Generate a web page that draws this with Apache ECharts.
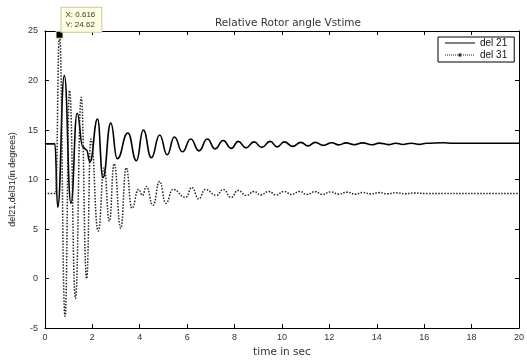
<!DOCTYPE html>
<html>
<head>
<meta charset="utf-8">
<script src="https://cdn.jsdelivr.net/npm/echarts@6/dist/echarts.min.js"></script>
<style>
  html, body { margin: 0; padding: 0; background: #fff; }
  #main { width: 527px; height: 363px; }
</style>
</head>
<body>
<div id="main"></div>
<script>
// del 21 : peaks / troughs  [time, degrees]
var del21 = [
  [0, 13.6], [0.42, 13.6], [0.54, 7.2], [0.82, 20.5], [1.1, 7.6], [1.36, 16.7],
  [1.6, 13.3], [1.75, 13.0], [1.9, 11.8], [2.22, 16.1], [2.45, 10.2], [2.78, 15.7],
  [3.05, 12.1], [3.5, 14.7], [3.86, 11.9], [4.15, 15.0], [4.49, 12.2], [4.84, 14.5],
  [5.16, 12.5], [5.46, 14.3], [5.8, 12.8], [6.15, 14.1], [6.5, 12.9], [6.85, 14.1],
  [7.18, 13.1], [7.52, 13.95], [7.86, 13.15], [8.16, 13.85], [8.48, 13.2], [8.82, 13.8],
  [9.15, 13.25], [9.5, 13.85], [9.8, 13.3], [10.1, 13.8], [10.45, 13.35], [10.8, 13.75],
  [11.1, 13.4], [11.4, 13.75], [11.75, 13.45], [12.1, 13.72], [12.4, 13.5], [12.7, 13.7],
  [13.05, 13.52], [13.4, 13.7], [13.8, 13.52], [14.1, 13.68], [14.5, 13.53], [14.8, 13.67],
  [15.1, 13.54], [15.45, 13.67], [15.8, 13.55], [16.1, 13.67], [16.8, 13.72], [17.2, 13.66],
  [20, 13.66]
];

// del 31
var del31 = [
  [0, 8.6], [0.45, 8.6], [0.616, 24.62], [0.85, -3.8], [1.04, 19.0], [1.29, -2.0],
  [1.53, 18.3], [1.76, 0], [1.94, 14.1], [2.25, 4.8], [2.5, 11.2], [2.72, 5.8],
  [2.92, 11.6], [3.2, 5.1], [3.43, 11.2], [3.67, 7.1], [3.95, 9.0], [4.12, 8.4],
  [4.28, 9.3], [4.56, 7.4], [4.84, 9.8], [5.1, 7.6], [5.4, 9.0], [5.94, 8.2],
  [6.2, 9.2], [6.49, 8.05], [6.76, 9.0], [7.24, 8.4], [7.52, 9.0], [7.86, 8.2],
  [8.14, 8.9], [8.5, 8.4], [8.82, 8.8], [9.1, 8.45], [9.44, 8.8], [9.75, 8.45],
  [10.1, 8.8], [10.4, 8.5], [10.75, 8.8], [11.05, 8.5], [11.4, 8.78], [11.7, 8.5],
  [12.05, 8.75], [12.4, 8.52], [12.75, 8.72], [13.1, 8.52], [13.4, 8.7], [13.75, 8.55],
  [14.1, 8.68], [14.45, 8.56], [14.8, 8.66], [15.2, 8.57], [15.6, 8.64], [16.0, 8.6],
  [20, 8.6]
];

var xTicks = { min: 0, max: 20, interval: 2 };
var yTicks = { min: -5, max: 25, interval: 5 };
var tip = [0.616, 24.62];

var chart = echarts.init(document.getElementById('main'));
var font = 'Liberation Sans, Arial, sans-serif';
var wide = 'DejaVu Sans, sans-serif';

// legend icons (30 x 8 box): plain line, dotted line with a dot in the middle
var solidIcon = 'path://M0,0Z M30,8Z M0,3.5 L30,3.5 L30,4.5 L0,4.5 Z';
var dotIcon = 'path://M0,0Z M30,8Z';
for (var i = 0; i < 30; i += 2) {
  if (i > 12 && i < 17) continue;
  dotIcon += ' M' + i + ',3.5 h1 v1 h-1 Z';
}
dotIcon += ' M13.5,2.5 h3 v3 h-3 Z';

var axisCommon = {
  axisLine: { show: true, onZero: false, lineStyle: { color: '#000', width: 1 } },
  axisTick: { show: true, inside: true, length: 4, lineStyle: { color: '#000' } },
  splitLine: { show: false }
};

chart.setOption({
  animation: false,
  backgroundColor: '#fff',
  title: {
    text: 'Relative Rotor angle Vstime',
    left: 283, top: 13, textAlign: 'center',
    textStyle: { fontFamily: wide, fontSize: 10.5, fontWeight: 'normal', color: '#333' }
  },
  legend: {
    orient: 'vertical',
    left: 438, top: 37,
    padding: [1, 7, 2, 7],
    itemGap: 2,
    itemWidth: 30, itemHeight: 8,
    borderColor: '#000', borderWidth: 1, backgroundColor: '#fff',
    textStyle: { fontFamily: font, fontSize: 10, color: '#111' },
    data: [
      { name: 'del 21', icon: solidIcon },
      { name: 'del 31', icon: dotIcon }
    ]
  },
  grid: { left: 41, right: 1, top: 31, bottom: 23 },
  xAxis: [
    Object.assign({
      type: 'value', min: xTicks.min, max: xTicks.max, interval: xTicks.interval,
      name: 'time in sec', nameLocation: 'middle', nameGap: 16,
      nameTextStyle: { fontFamily: wide, fontSize: 10.5, color: '#333' },
      axisLabel: { fontFamily: font, fontSize: 9, color: '#333', margin: 5 }
    }, axisCommon),
    Object.assign({
      type: 'value', position: 'top', min: xTicks.min, max: xTicks.max, interval: xTicks.interval,
      axisLabel: { show: false }
    }, axisCommon)
  ],
  yAxis: [
    Object.assign({
      type: 'value', min: yTicks.min, max: yTicks.max, interval: yTicks.interval,
      name: 'del21,del31(in degrees)', nameLocation: 'middle', nameGap: 27,
      nameTextStyle: { fontFamily: font, fontSize: 9, color: '#222' },
      axisLabel: { fontFamily: font, fontSize: 9, color: '#333', margin: 7 }
    }, axisCommon),
    Object.assign({
      type: 'value', position: 'right', min: yTicks.min, max: yTicks.max, interval: yTicks.interval,
      axisLabel: { show: false }
    }, axisCommon)
  ],
  series: [
    {
      name: 'del 21', type: 'line', data: del21,
      smooth: 0.5, smoothMonotone: 'x', symbol: 'none',
      lineStyle: { color: '#000', width: 1.6 },
      itemStyle: { color: '#000' }
    },
    {
      name: 'del 31', type: 'line', data: del31,
      smooth: 0.5, smoothMonotone: 'x', symbol: 'none',
      lineStyle: { color: '#222', width: 1.5, type: 'dotted' },
      itemStyle: { color: '#222' },
      markPoint: {
        symbol: 'rect', symbolSize: 7,
        itemStyle: { color: '#000', borderColor: '#f4f0b0', borderWidth: 1 },
        label: {
          show: true,
          position: [6, -23],
          formatter: 'X: ' + tip[0] + '\nY: ' + tip[1],
          fontFamily: font, fontSize: 8, lineHeight: 10, color: '#333', align: 'left',
          backgroundColor: '#ffffe1', borderColor: '#c8c8a8', borderWidth: 1,
          padding: [2, 6, 2, 4]
        },
        data: [{ coord: tip }]
      }
    }
  ]
});
</script>
</body>
</html>
